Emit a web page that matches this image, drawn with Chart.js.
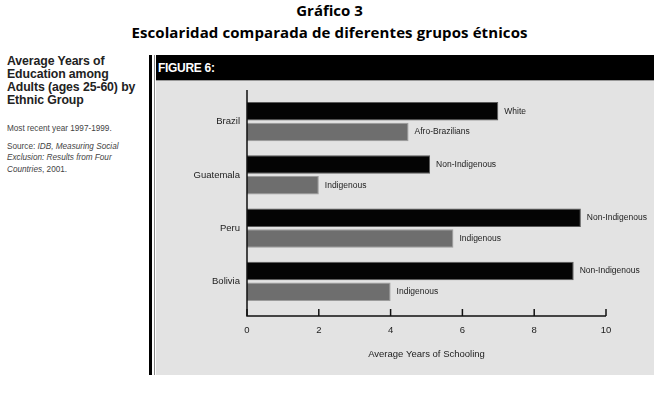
<!DOCTYPE html>
<html lang="es">
<head>
<meta charset="UTF-8">
<title>Escolaridad comparada de diferentes grupos étnicos</title>
<script src="https://cdn.jsdelivr.net/npm/chart.js"></script>
<style>
    html, body { margin: 0; padding: 0; background: #fff; }
    body { width: 659px; height: 393px; position: relative; overflow: hidden; font-family: "Liberation Sans", Arial, sans-serif; }
    .title { position: absolute; left: 0; width: 659px; text-align: center; font-family: "Open Sans", sans-serif; font-weight: 700; font-size: 15px; color: #000; }
    #t1 { top: 0px; }
    #t2 { top: 22px; letter-spacing: 0.1px; }
    .side { position: absolute; left: 7px; color: #222; }
    #sideHead { top: 55px; font-weight: bold; font-size: 12.3px; line-height: 13px; letter-spacing: -0.1px; }
    #sideNote { top: 124px; font-size: 8.2px; color: #444; }
    #sideSrc { top: 141px; font-size: 8.2px; line-height: 11.3px; color: #444; }
    #border { position: absolute; left: 149px; top: 55px; width: 3px; height: 320px; background: #000; }
    #border2 { position: absolute; left: 154px; top: 55px; width: 1px; height: 320px; background: #888; }
    #panel { position: absolute; left: 156px; top: 55px; width: 498px; height: 320px; background: #e3e3e3; }
    #header { position: absolute; left: 156px; top: 55px; width: 498px; height: 25px; background: #000; border-bottom: 1px solid #999; }
    #header span { position: absolute; left: 2px; top: 6px; color: #fff; font-weight: bold; font-size: 12px; letter-spacing: -0.3px; }
    canvas { position: absolute; left: 0; top: 0; }
</style>
</head>
<body>
<div class="title" id="t1">Gráfico 3</div>
<div class="title" id="t2">Escolaridad comparada de diferentes grupos étnicos</div>

<div class="side" id="sideHead">Average Years of<br>Education among<br>Adults (ages 25-60) by<br>Ethnic Group</div>
<div class="side" id="sideNote">Most recent year 1997-1999.</div>
<div class="side" id="sideSrc">Source: <i>IDB, Measuring Social<br>Exclusion: Results from Four<br>Countries</i>, 2001.</div>

<div id="border"></div>
<div id="border2"></div>
<div id="panel"></div>
<div id="header"><span>FIGURE 6:</span></div>

<canvas id="chart" width="659" height="393"></canvas>

<script>
    // Data
    const countries = ['Brazil', 'Guatemala', 'Peru', 'Bolivia'];
    const majorityYears = [7.0, 5.1, 9.3, 9.1];
    const minorityYears = [4.5, 2.0, 5.75, 4.0];
    const majorityNames = ['White', 'Non-Indigenous', 'Non-Indigenous', 'Non-Indigenous'];
    const minorityNames = ['Afro-Brazilians', 'Indigenous', 'Indigenous', 'Indigenous'];
    const xTicks = [0, 2, 4, 6, 8, 10];

    const groupNames = [majorityNames, minorityNames];

    // axis lines with inward tick marks, like the printed figure
    const axisFrame = {
        id: 'axisFrame',
        afterDatasetsDraw(chart) {
            const ctx = chart.ctx;
            const area = chart.chartArea;
            const x = chart.scales.x;
            const yLine = area.bottom + 8;
            ctx.save();
            ctx.strokeStyle = '#111';
            ctx.lineWidth = 1.5;
            ctx.beginPath();
            ctx.moveTo(area.left, area.top - 5);
            ctx.lineTo(area.left, yLine);
            ctx.lineTo(x.getPixelForValue(10), yLine);
            ctx.stroke();
            xTicks.forEach(v => {
                const px = x.getPixelForValue(v);
                ctx.beginPath();
                ctx.moveTo(px, yLine);
                ctx.lineTo(px, yLine - 7);
                ctx.stroke();
            });
            ctx.restore();
        }
    };

    // group names after each bar
    const barNames = {
        id: 'barNames',
        afterDatasetsDraw(chart) {
            const ctx = chart.ctx;
            ctx.save();
            ctx.font = '8.5px "Liberation Sans", Arial, sans-serif';
            ctx.fillStyle = '#222';
            ctx.textBaseline = 'middle';
            chart.data.datasets.forEach((ds, i) => {
                chart.getDatasetMeta(i).data.forEach((bar, j) => {
                    ctx.fillText(groupNames[i][j], bar.x + 6, bar.y);
                });
            });
            ctx.restore();
        }
    };

    const ctx = document.getElementById('chart').getContext('2d');
    new Chart(ctx, {
        type: 'bar',
        data: {
            labels: countries,
            datasets: [
                {
                    label: 'Majority',
                    data: majorityYears,
                    backgroundColor: '#040404',
                    borderColor: '#5a5a5a',
                    borderWidth: 1,
                    borderSkipped: 'left',
                    categoryPercentage: 0.78,
                    barPercentage: 0.9
                },
                {
                    label: 'Minority',
                    data: minorityYears,
                    backgroundColor: '#6e6e6e',
                    borderColor: '#9c9c9c',
                    borderWidth: 1,
                    borderSkipped: 'left',
                    categoryPercentage: 0.78,
                    barPercentage: 0.9
                }
            ]
        },
        options: {
            indexAxis: 'y',
            responsive: false,
            animation: false,
            layout: { padding: { left: 147, top: 95, right: 53, bottom: 0 } },
            plugins: {
                legend: { display: false },
                tooltip: { enabled: false }
            },
            scales: {
                x: {
                    min: 0,
                    max: 10,
                    afterBuildTicks: scale => { scale.ticks = xTicks.map(v => ({ value: v })); },
                    afterFit: scale => { scale.height = 85; },
                    border: { display: false },
                    grid: { display: false, drawTicks: false },
                    ticks: {
                        padding: 17,
                        color: '#222',
                        font: { family: '"Liberation Sans", Arial, sans-serif', size: 9.5 }
                    },
                    title: {
                        display: true,
                        text: 'Average Years of Schooling',
                        color: '#222',
                        font: { family: '"Liberation Sans", Arial, sans-serif', size: 9.5 },
                        padding: { top: 0, bottom: 33 }
                    }
                },
                y: {
                    afterFit: scale => { scale.width = 100; },
                    border: { display: false },
                    grid: { display: false, drawTicks: false },
                    ticks: {
                        padding: 7,
                        color: '#222',
                        font: { family: '"Liberation Sans", Arial, sans-serif', size: 9.5 }
                    }
                }
            }
        },
        plugins: [axisFrame, barNames]
    });
</script>
</body>
</html>
